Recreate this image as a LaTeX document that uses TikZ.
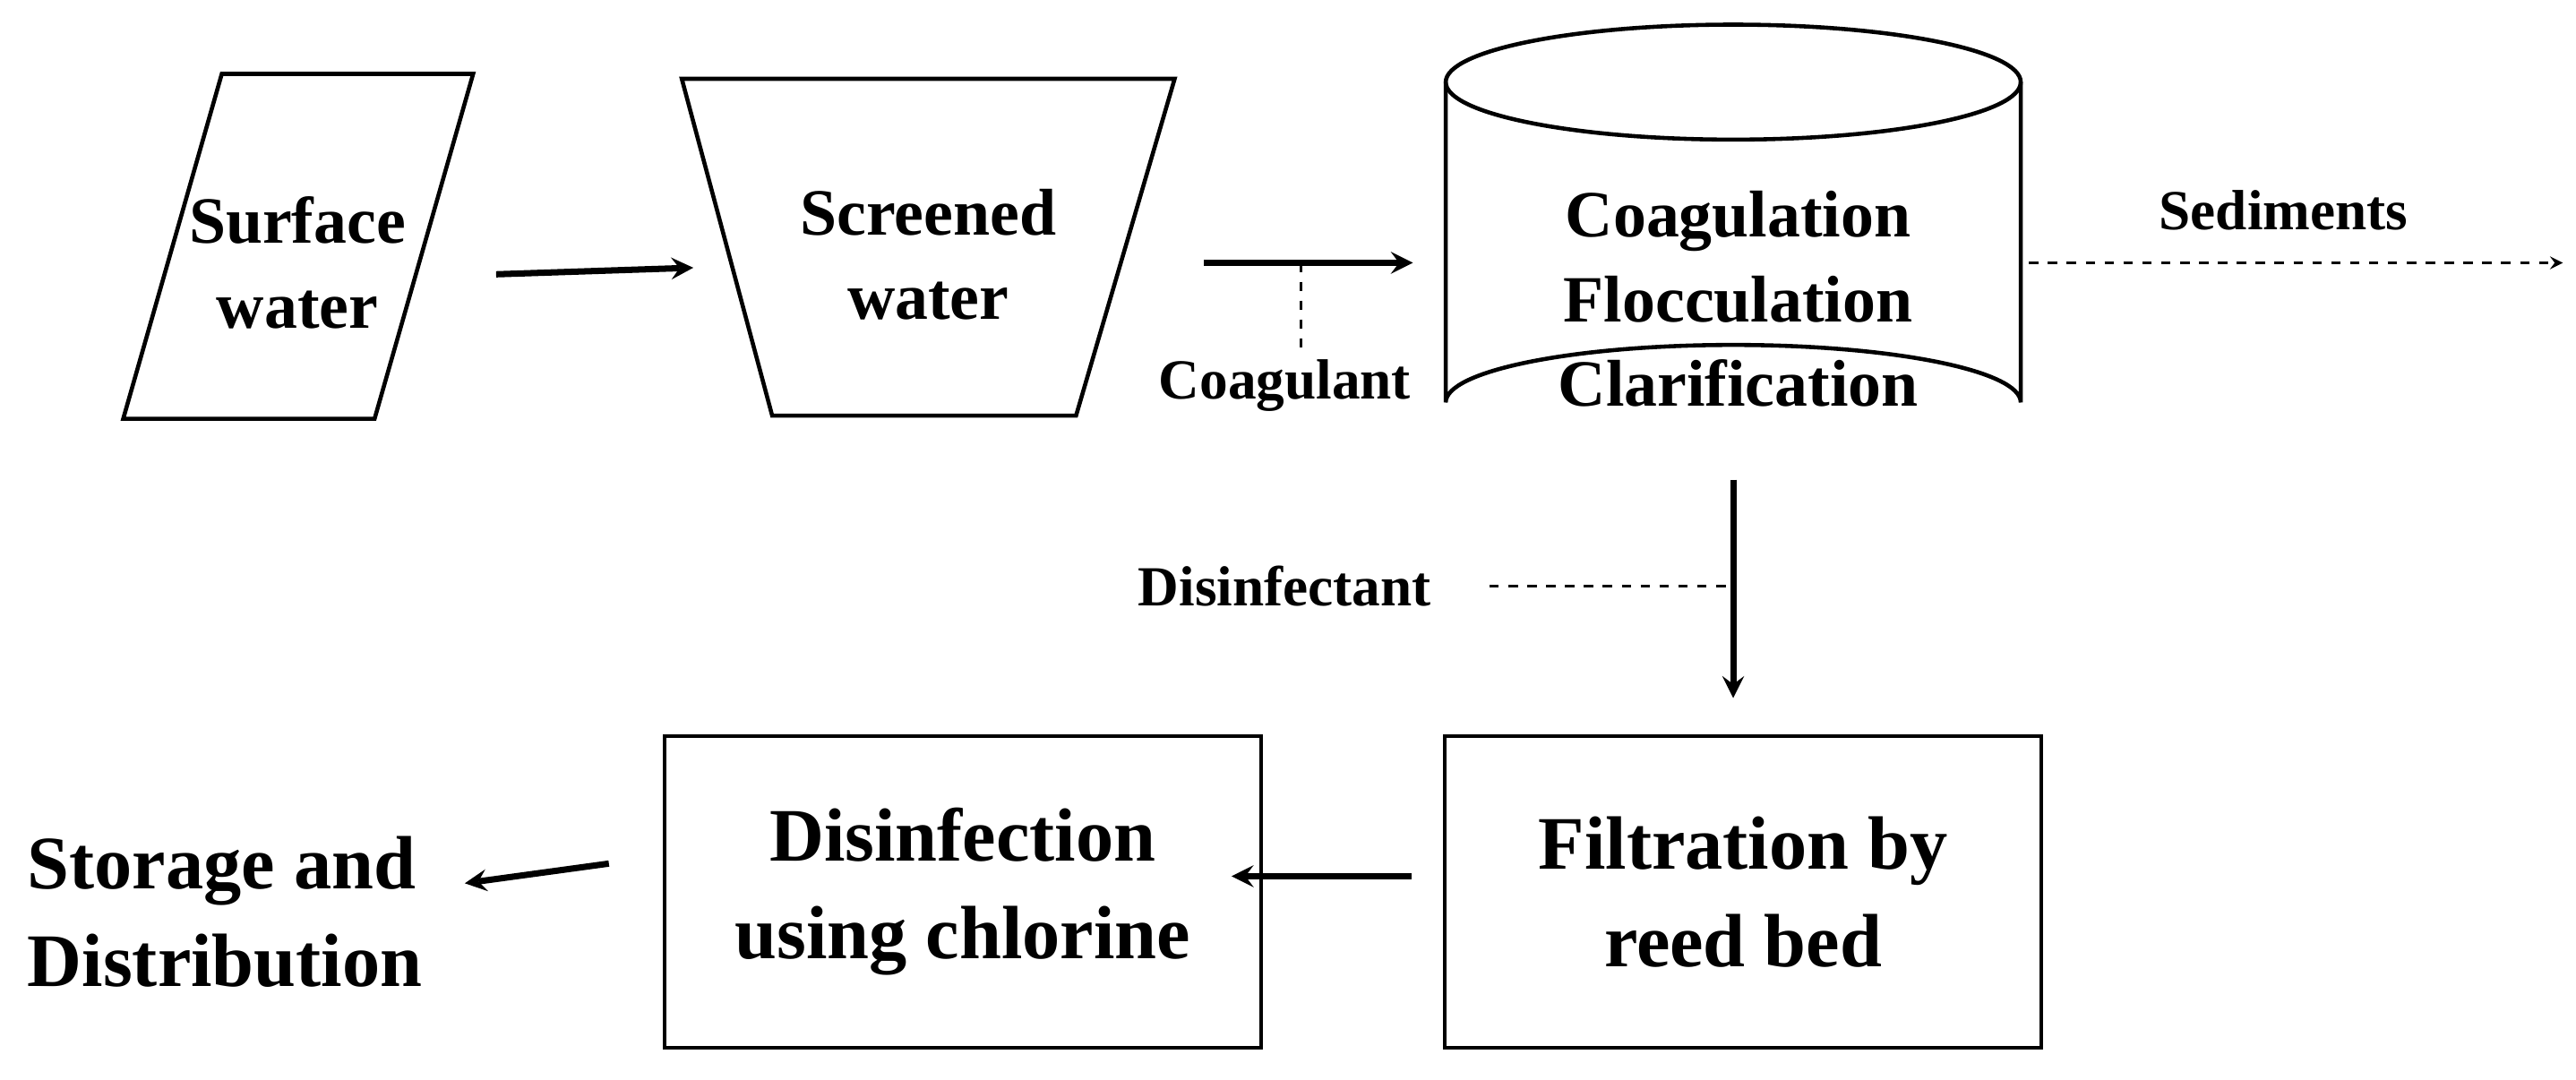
\documentclass[tikz,border=0pt]{standalone}
\usepackage{fontspec}
\setmainfont{Liberation Serif}
\usetikzlibrary{positioning,shapes.geometric,arrows}
\tikzstyle{lbl} = [font=\bfseries\fontsize{21}{27}\selectfont, align=center]
\tikzstyle{big} = [font=\bfseries\fontsize{24}{31}\selectfont, align=center]
\tikzstyle{small} = [font=\bfseries\fontsize{18}{22}\selectfont]
\tikzstyle{unit} = [rectangle, draw=black, line width=1.3pt, minimum width=6.66cm, minimum height=3.48cm, big]
\tikzstyle{arrow} = [line width=2pt,->,>=stealth]
\tikzstyle{dashline} = [dashed, line width=0.8pt]

\begin{document}
\begin{tikzpicture}[x=0.01834cm,y=-0.01834cm]
\useasboundingbox (0,0) rectangle (1568,657);

% source and screen
\draw[line width=1.3pt] (75,255) -- (135,45) -- (288,45) -- (228,255) -- cycle;
\node (surface) [lbl] at (181,160) {Surface\\water};
\draw[line width=1.3pt] (415,48) -- (715,48) -- (655,253) -- (470,253) -- cycle;
\node (screened) [lbl] at (565,155) {Screened\\water};

% clarifier tank
\draw[line width=1.3pt] (880,50) -- (880,245) arc (180:360:175 and 35) -- (1230,50);
\draw[line width=1.3pt] (1055,50) ellipse (175 and 35);
\node (tank) [lbl] at (1058,182) {Coagulation\\Flocculation\\Clarification};

\coordinate (s1) at (302,167);  \coordinate (s2) at (422,163);
\coordinate (t1) at (733,160);  \coordinate (t2) at (860,160);
\coordinate (c1) at (792,160);
\coordinate (sed1) at (1235,160); \coordinate (sed2) at (1560,160);
\coordinate (d1) at (1055,292); \coordinate (d2) at (1055,425);
\coordinate (dj) at (1055,357);

\draw [arrow] (s1) -- (s2);
\draw [arrow] (t1) -- (t2);
\node (coag) [small] at (782,235) {Coagulant};
\draw [dashline] (c1) -- (c1 |- coag.north);
\draw [dashline,->,>=stealth] (sed1) -- (sed2);
\node (sed) [small] at (1390,128) {Sediments};
\draw [arrow] (d1) -- (d2);
\node (disf) [small] at (782,357) {Disinfectant};
\draw [dashline] ([xshift=15]disf.east) -- (dj);

% lower row
\node (filter) [unit] at (1061,543) {Filtration by\\reed bed};
\node (chlor) [unit] at (586,543) {Disinfection\\using chlorine};
\node (store) [big, align=left, anchor=west] at (10,555) {Storage and\\Distribution};
\draw [arrow] ([xshift=-10,yshift=5]filter.west) -- ([xshift=-10,yshift=5]chlor.east);
\draw [arrow] ([xshift=-17,yshift=9]chlor.west) -- ([xshift=10,yshift=9]store.east);
\end{tikzpicture}
\end{document}
